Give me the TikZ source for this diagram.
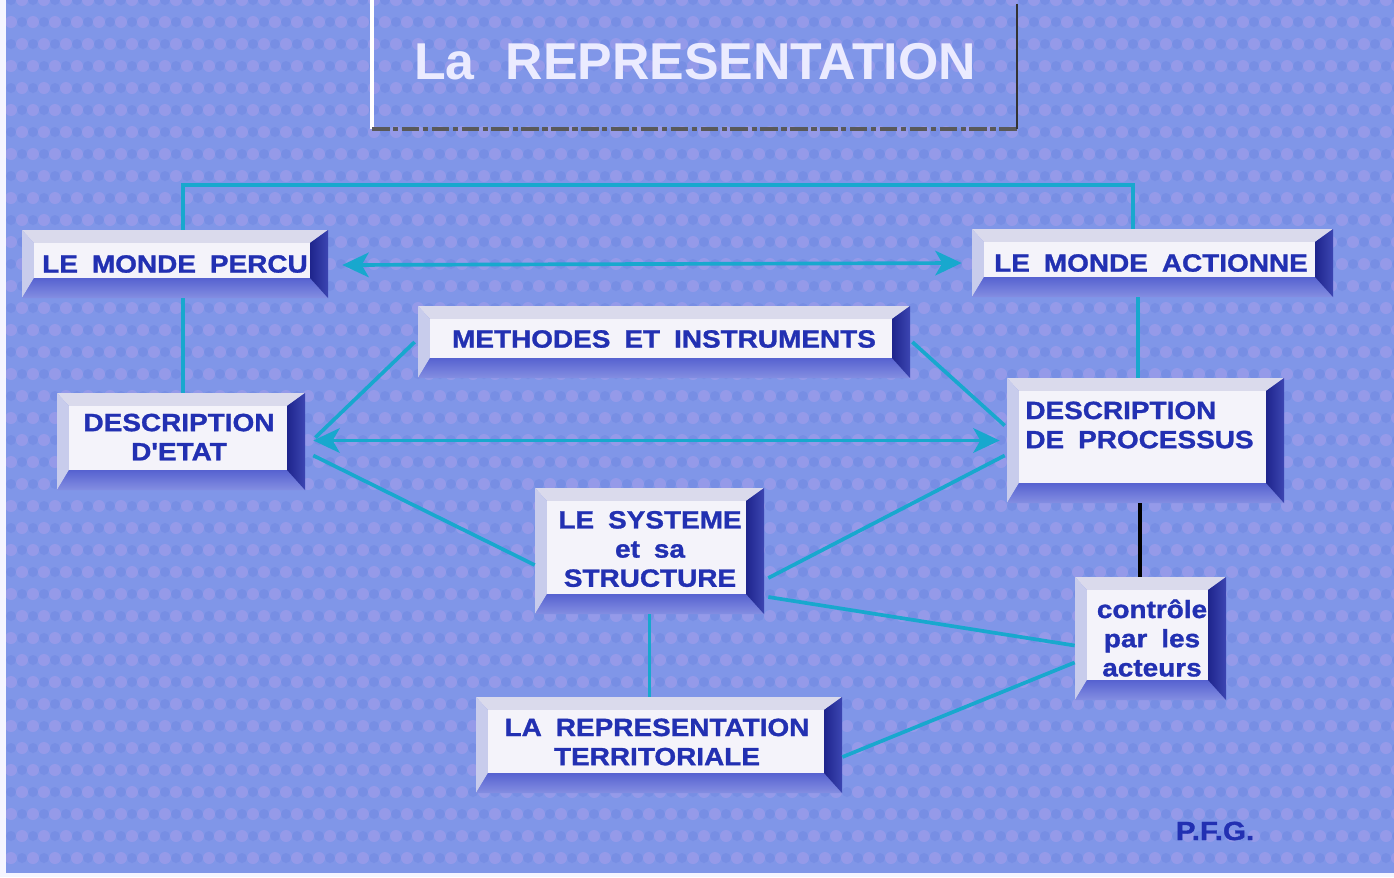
\documentclass[tikz,border=0pt]{standalone}
\usepackage{fontspec}
\setmainfont{Liberation Sans}
\newfontfamily\boxfont[FakeStretch=1.12,WordSpace=1.8,FakeBold=1.2]{Liberation Sans}
\usetikzlibrary{arrows.meta,calc,fit}

\definecolor{bgblue}{RGB}{128,150,232}
\definecolor{bgdot}{RGB}{176,160,236}
\definecolor{bgdark}{RGB}{104,128,222}
\definecolor{linkc}{RGB}{24,168,206}
\definecolor{inkblue}{RGB}{34,48,178}
\definecolor{facec}{RGB}{244,243,250}
\definecolor{bevtopc}{RGB}{218,218,236}
\definecolor{bevleftc}{RGB}{200,204,236}
\definecolor{bevrightA}{RGB}{30,36,140}
\definecolor{bevrightB}{RGB}{60,70,178}
\definecolor{bevbotA}{RGB}{86,98,208}
\definecolor{bevbotB}{RGB}{132,142,226}

\tikzset{
  boxtext/.style={font=\boxfont\bfseries\fontsize{14.2}{16.6}\selectfont,
    text=inkblue, inner sep=0pt, align=center},
  link/.style={draw=linkc, line width=2.1pt},
  both/.style={link, {Stealth[length=15pt,width=14pt,inset=4pt]}-{Stealth[length=15pt,width=14pt,inset=4pt]}},
}

% bevelled frame: #1 name, (#2,#3) top-left and (#4,#5) bottom-right outer corners
\newcommand\bevframe[5]{%
  \pgfmathsetmacro\il{#2+12}\pgfmathsetmacro\it{#3+13}%
  \pgfmathsetmacro\ir{#4-18}\pgfmathsetmacro\ib{#5-20}%
  \fill[bevtopc] (#2,#3) -- (#4,#3) -- (\ir,\it) -- (\il,\it) -- cycle;
  \fill[bevleftc] (#2,#3) -- (\il,\it) -- (\il,\ib) -- (#2,#5) -- cycle;
  \shade[top color=bevbotA, bottom color=bevbotB] (#2,#5) -- (\il,\ib) -- (\ir,\ib) -- (#4,#5) -- cycle;
  \shade[left color=bevrightA, right color=bevrightB] (#4,#3) -- (#4,#5) -- (\ir,\ib) -- (\ir,\it) -- cycle;
  \fill[facec] (\il,\it) rectangle (\ir,\ib);
  \node[fit={(#2,#3)(#4,#5)}, inner sep=0pt] (#1) {};
}

\begin{document}
\begin{tikzpicture}[x=0.02cm,y=-0.02cm]
\useasboundingbox (0,0) rectangle (1394,877);
% paper and printed background
\fill[white!96!blue] (0,0) rectangle (1394,877);
\fill[bgblue] (6,0) rectangle (1394,873);
% halftone texture
\begin{scope}
\clip (6,0) rectangle (1394,873);
\foreach \j in {0,...,40}{
  \foreach \i in {0,...,64}{
    \pgfmathsetmacro\xx{\i*22+mod(\j,2)*11}
    \fill[bgdot, opacity=0.45] (\xx,\j*22) circle (6);
    \fill[bgdark, opacity=0.35] (\xx+11,\j*22) circle (5);
  }
}
\end{scope}

% title frame
\draw[white, line width=1.8pt] (372,0) -- (372,129);
\draw[gray!70!black, line width=2.4pt, dash pattern=on 10pt off 2pt on 3pt off 2pt] (372,129) -- (1017,129);
\draw[gray!40!black, line width=1.6pt] (1017,4) -- (1017,129);
\node[font=\bfseries\fontsize{29.5}{32}\selectfont, text=white!92!blue] (title) at (695,62) {La\hspace{0.6em}REPRESENTATION};

% boxes
\bevframe{percu}{22}{230}{328}{298}
\bevframe{actionne}{972}{229}{1333}{297}
\bevframe{methodes}{418}{306}{910}{378}
\bevframe{etat}{57}{393}{305}{490}
\bevframe{processus}{1007}{378}{1284}{503}
\bevframe{systeme}{535}{488}{764}{614}
\bevframe{controle}{1075}{577}{1226}{700}
\bevframe{territ}{476}{697}{842}{793}

\node[boxtext] (percu-t) at (175,264) {LE MONDE PERCU};
\node[boxtext] (actionne-t) at (1151,263) {LE MONDE ACTIONNE};
\node[boxtext] (methodes-t) at (664,339) {METHODES ET INSTRUMENTS};
\node[boxtext] (etat-t) at (179,437) {DESCRIPTION\\D'ETAT};
\node[boxtext, align=left, anchor=west] (processus-t) at (1025,425) {DESCRIPTION\\DE PROCESSUS};
\node[boxtext] (systeme-t) at (650,549) {LE SYSTEME\\et sa\\STRUCTURE};
\node[boxtext] (controle-t) at (1152,638) {contrôle\\par les\\acteurs};
\node[boxtext] (territ-t) at (657,742) {LA REPRESENTATION\\TERRITORIALE};

\node[font=\boxfont\bfseries\fontsize{15}{17}\selectfont, text=inkblue] (pfg) at (1215,831) {P.F.G.};

% connectors
\coordinate (topL) at (183,185);
\coordinate (topR) at (1133,185);
\draw[link] (topL |- percu.north) -- (topL) -- (topR) -- (topR |- actionne.north);
\draw[link] (topL |- percu.south) -- (topL |- etat.north);
\draw[link] (1138,0 |- actionne.south) -- (1138,0 |- processus.north);
\draw[both] ($(percu.east)+(14,1)$) -- ($(actionne.west)+(-10,0)$);
\draw[both] ($(etat.east)+(8,-1)$) -- ($(processus.west)+(-7,0)$);
\draw[link] ($(methodes.west)+(-3,0)$) -- ($(etat.east)+(10,-4)$);
\draw[link] ($(systeme.west)+(0,14)$) -- ($(etat.east)+(8,14)$);
\draw[link] ($(methodes.east)+(2,0)$) -- ($(processus.west)+(-2,-15)$);
\draw[link] ($(systeme.east)+(4,27)$) -- ($(processus.west)+(-2,15)$);
\draw[link] ($(systeme.east)+(4,46)$) -- ($(controle.west)+(0,7)$);
\draw[link] ($(territ.east)+(0,12)$) -- ($(controle.west)+(0,24)$);
\draw[link] (systeme.south) -- (systeme.south |- territ.north);
\draw[black, line width=1.8pt] (1140,0 |- processus.south) -- (1140,0 |- controle.north);
\end{tikzpicture}
\end{document}
